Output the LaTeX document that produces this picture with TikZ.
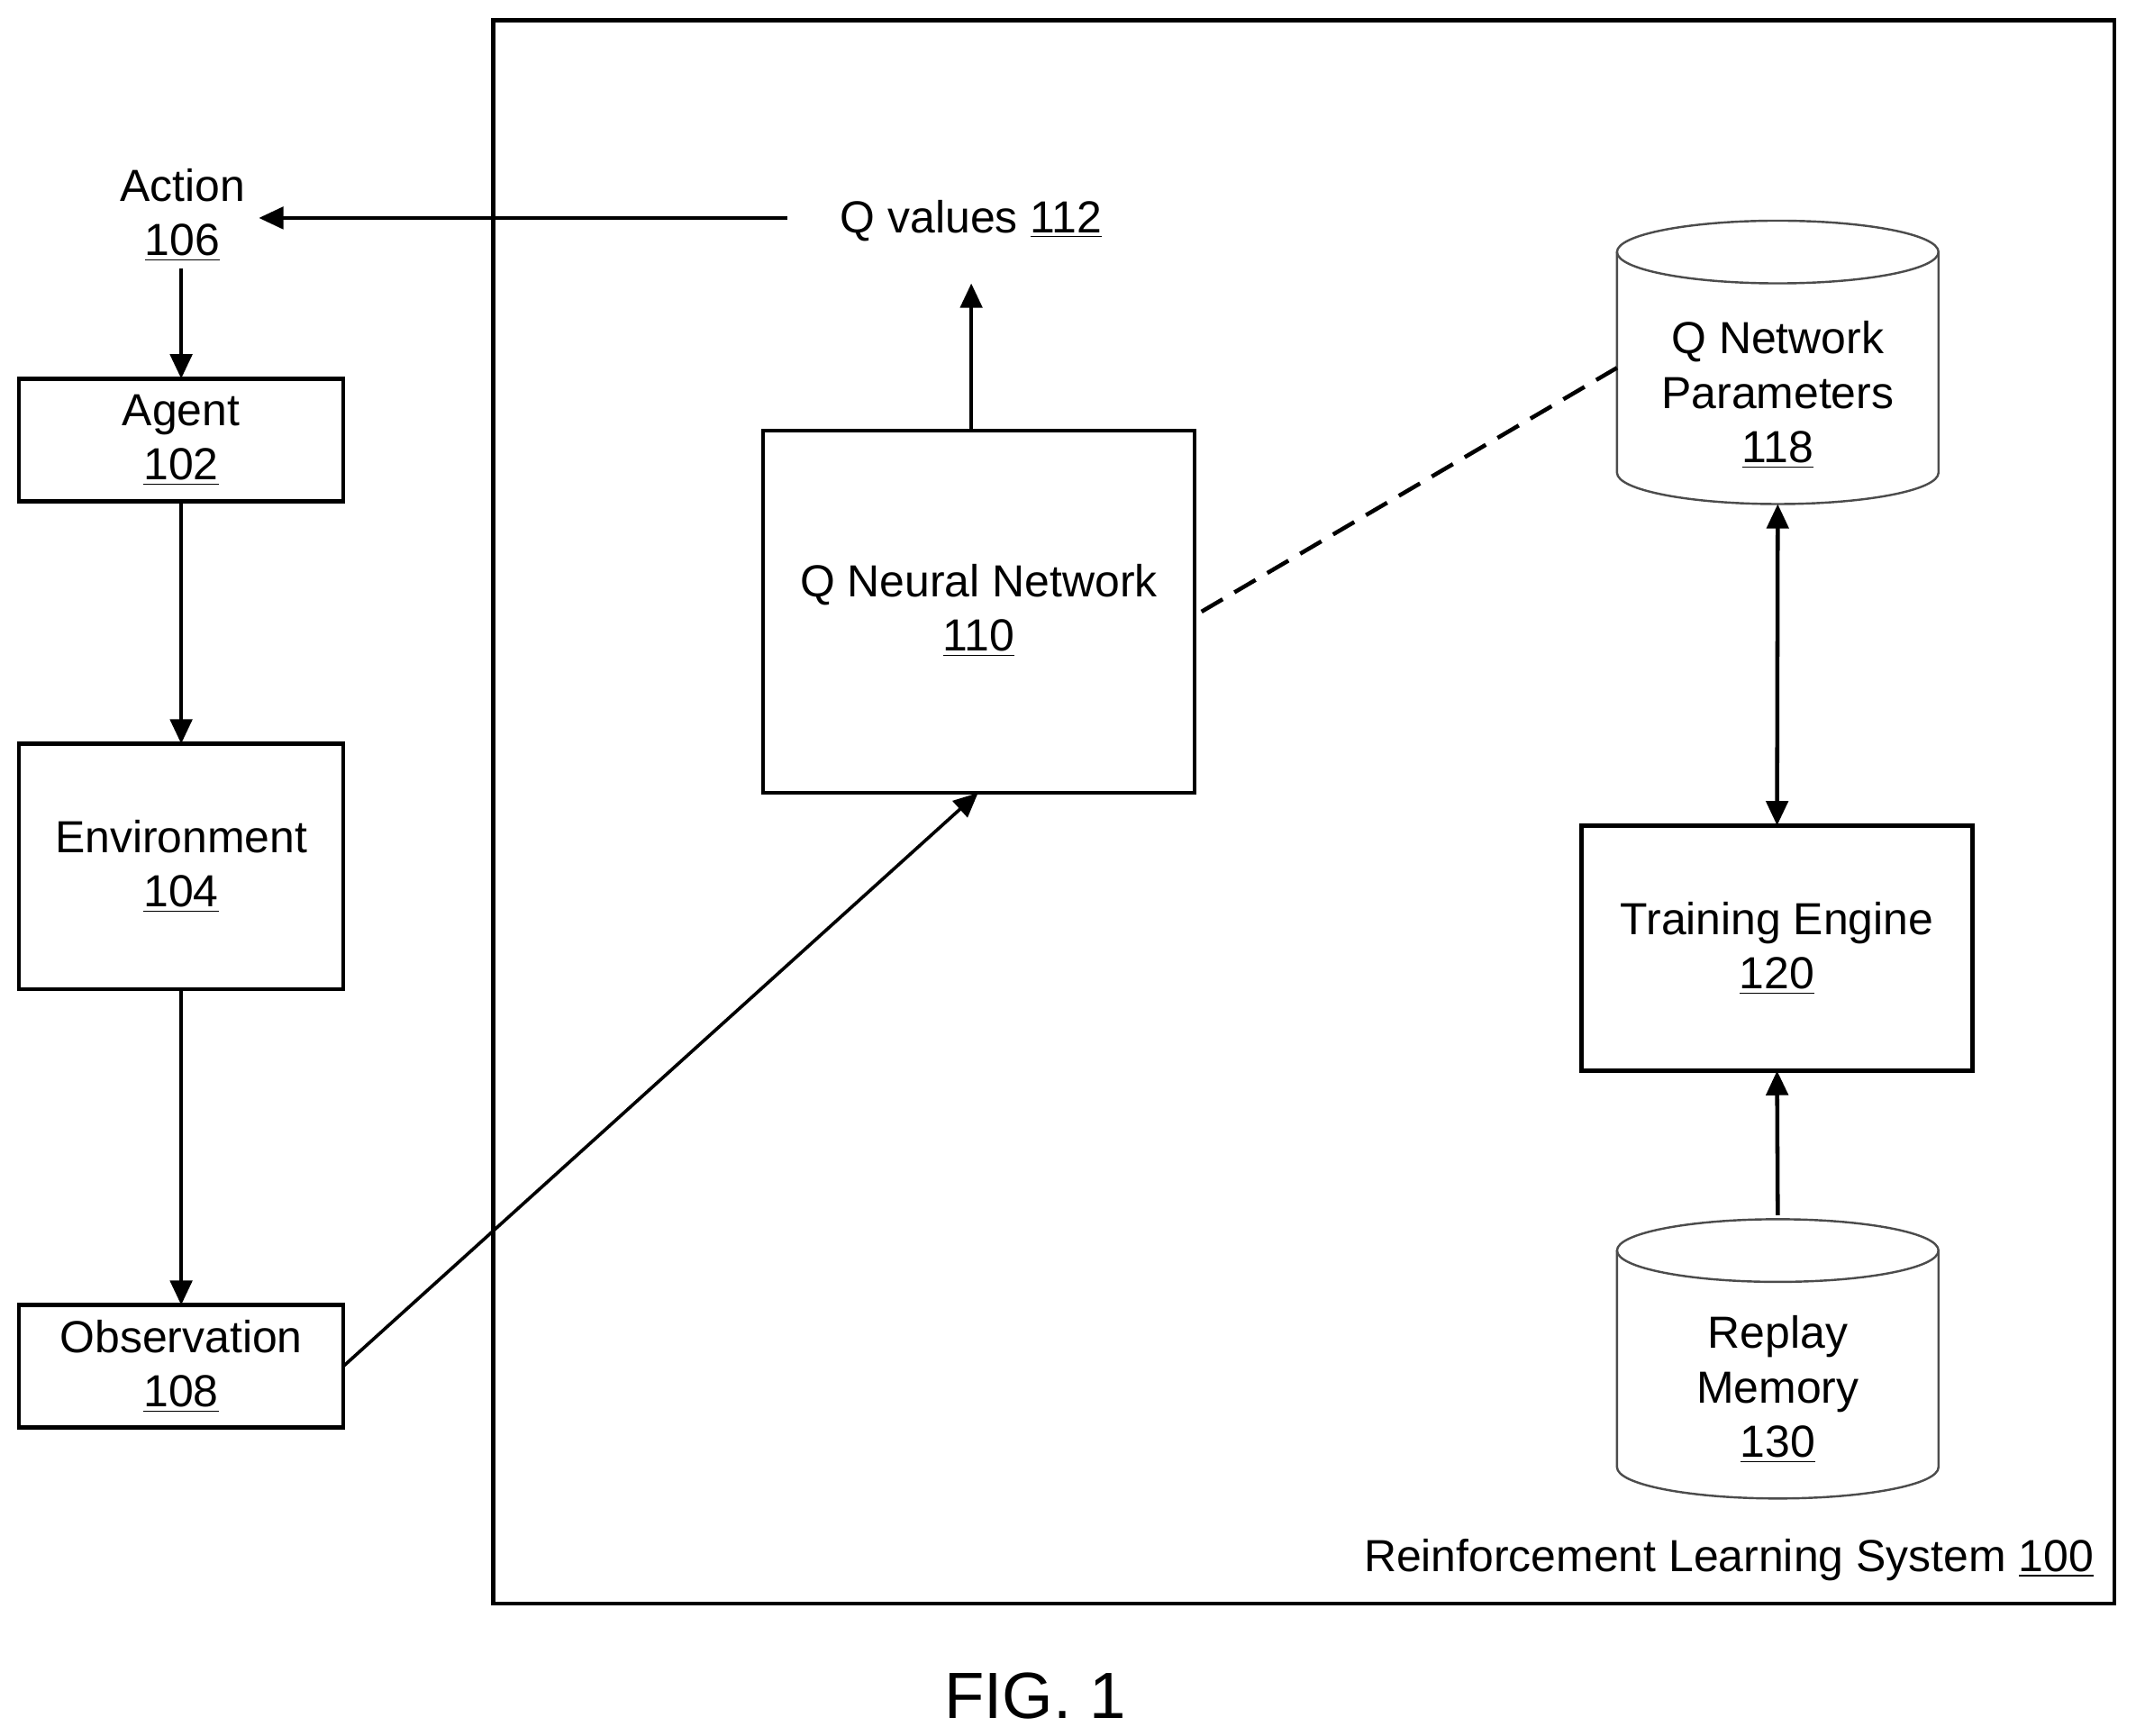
\documentclass[tikz,border=0pt]{standalone}
\usepackage{fontspec}
\setmainfont{Liberation Sans}
\usetikzlibrary{arrows.meta}
\begin{document}
\begin{tikzpicture}[x=0.5pt,y=-0.5pt,
  every node/.style={font=\fontsize{16.5}{20}\selectfont, align=center},
  box/.style={draw, line width=1.5pt, inner sep=0pt, outer sep=0pt},
  arr/.style={line width=1.5pt, -{Triangle[length=9pt,width=8pt]}},
  cyl/.style={draw=black!70, line width=0.8pt}]
\useasboundingbox (0,0) rectangle (1568,1274);
\draw[line width=1.5pt] (362,15) rectangle (1552,1177);
\node (act) at (134,158) {Action\\\underline{106}};
\node (qv) at (713,162) {Q values \underline{112}};
\coordinate (qvl) at (578,160);
\coordinate (actr) at (190,160);
\draw[arr] (qvl) -- (actr);
\node[box, minimum width=119pt, minimum height=45pt] (agent) at (133,323) {Agent\\\underline{102}};
\node[box, minimum width=119pt, minimum height=90pt] (env) at (133,636) {Environment\\\underline{104}};
\node[box, minimum width=119pt, minimum height=45pt] (obs) at (133,1003) {Observation\\\underline{108}};
\coordinate (actb) at (133,197);
\draw[arr] (actb) -- (agent.north);
\draw[arr] (agent.south) -- (env.north);
\draw[arr] (env.south) -- (obs.north);
\node[box, minimum width=158.5pt, minimum height=133pt] (qnn) at (718.5,449) {};
\node at (718.5,448) {Q Neural Network\\\underline{110}};
\coordinate (qvb) at (713,208);
\draw[arr] (qnn.north -| qvb) -- (qvb);
\coordinate (qnnb) at (718,582);
\draw[arr, line width=1.2pt] (obs.east) -- (qnnb);
% cylinder Q params
\draw[cyl, fill=white] (1187,185) -- (1187,347) arc[start angle=180,end angle=0,x radius=118,y radius=23] -- (1423,185);
\draw[cyl] (1305,185) ellipse[x radius=118,y radius=23];
\node (qp) at (1305,290) {Q Network\\Parameters\\\underline{118}};
\coordinate (qpl) at (1187,270);
\coordinate (qpb) at (1305,370);
\draw[line width=1.5pt, dash pattern=on 9pt off 5pt] (qnn.east) ++(5,0) coordinate (qnne) -- (qpl);
\node[box, minimum width=143.5pt, minimum height=90pt] (train) at (1304.5,696) {Training Engine\\\underline{120}};
\draw[line width=1.5pt, {Triangle[length=9pt,width=8pt]}-{Triangle[length=9pt,width=8pt]}] (qpb) -- (train.north);
% replay cylinder
\draw[cyl, fill=white] (1187,918) -- (1187,1077) arc[start angle=180,end angle=0,x radius=118,y radius=23] -- (1423,918);
\draw[cyl] (1305,918) ellipse[x radius=118,y radius=23];
\node (rm) at (1305,1020) {Replay\\Memory\\\underline{130}};
\coordinate (rmt) at (1305,892);
\draw[arr] (rmt) -- (train.south);
\node[anchor=east] (rls) at (1544,1145) {Reinforcement Learning System \underline{100}};
\node[font=\fontsize{24}{28}\selectfont] (fig) at (760,1245) {FIG. 1};
\end{tikzpicture}
\end{document}
